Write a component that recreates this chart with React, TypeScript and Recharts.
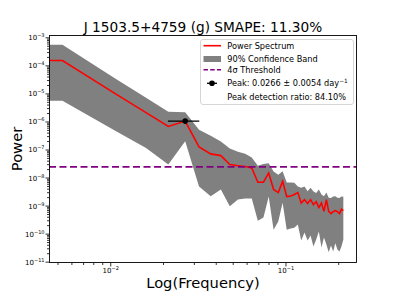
import React from 'react';
import { ComposedChart, Line, Area, Scatter, ErrorBar, XAxis, YAxis, ReferenceLine } from 'recharts';

// frequency grid (day^-1). first entry sits on the left edge, where the f=0 bin gets clipped on a log axis
const freqs = [
  0.00444, 0.0053, 0.0106, 0.0159, 0.0213, 0.0266, 0.0319, 0.0372, 0.0425, 0.0478, 0.0532,
  0.0585, 0.0638, 0.0691, 0.0744, 0.0797, 0.085, 0.0904, 0.0957, 0.101, 0.1063,
  0.1116, 0.1169, 0.1222, 0.1276, 0.1329, 0.1382, 0.1435, 0.1488, 0.1541, 0.1595,
  0.1648, 0.1701, 0.1754, 0.1807, 0.186, 0.1913, 0.1967, 0.202, 0.2073, 0.2126,
];

// log10 of power
const powerExp = [
  -3.81, -3.81, -4.99, -5.67, -6.16, -5.97, -6.89, -7.14, -7.2, -7.52, -7.56,
  -7.59, -7.64, -8.15, -8.15, -7.82, -8.41, -8.52, -8.12, -8.66, -8.64,
  -8.59, -8.52, -8.89, -8.77, -8.91, -8.77, -8.95, -8.84, -9.05, -8.89,
  -9.19, -8.77, -9.19, -9.27, -9.2, -9.16, -9.2, -9.27, -9.11, -9.16,
];

const bandHighExp = [
  -3.25, -3.25, -4.45, -5.14, -5.64, -5.65, -6.28, -6.49, -6.7, -6.95, -7.06,
  -7.13, -7.27, -7.56, -7.5, -7.47, -7.77, -7.88, -7.76, -8.16, -8.16,
  -8.17, -8.3, -8.35, -8.3, -8.47, -8.35, -8.48, -8.53, -8.41, -8.59,
  -8.65, -8.52, -8.7, -8.71, -8.66, -8.65, -8.7, -8.71, -8.66, -8.67,
];

const bandLowExp = [
  -5.245, -5.245, -6.31, -6.93, -7.52, -6.69, -8.3, -8.65, -8.41, -9.01, -8.77,
  -8.73, -8.73, -9.52, -9.41, -8.66, -9.84, -9.55, -8.88, -9.84, -9.8,
  -9.77, -9.66, -10.23, -9.94, -10.23, -10.05, -10.44, -10.19, -9.91, -10.48,
  -10.12, -10.37, -10.65, -10.41, -10.62, -10.33, -10.55, -10.62, -10.44, -10.19,
];

const peakFreq = 0.0266;
const peakErr = 0.0054;
const peakPowerExp = -5.97;
const threshold = 2.5e-8;

const xDomain = [0.004441, 0.2544];
const yDomain = [9.33e-12, 1.26e-3];

const xMajor = [0.01, 0.1];
const xMinor = [0.005, 0.006, 0.007, 0.008, 0.009, 0.02, 0.03, 0.04, 0.05, 0.06, 0.07, 0.08, 0.09, 0.2];
const yMajor = [1e-11, 1e-10, 1e-9, 1e-8, 1e-7, 1e-6, 1e-5, 1e-4, 1e-3];
const yMinor = [-11, -10, -9, -8, -7, -6, -5, -4].flatMap((d) =>
  [2, 3, 4, 5, 6, 7, 8, 9].map((m) => m * Math.pow(10, d))
);

const data = freqs.map((f, i) => ({
  f,
  p: Math.pow(10, powerExp[i]),
  band: [Math.pow(10, bandLowExp[i]), Math.pow(10, bandHighExp[i])],
}));

const peakData = [{ f: peakFreq, p: Math.pow(10, peakPowerExp), ferr: peakErr }];

const isMajor = (v: number) => Math.abs(Math.log10(v) - Math.round(Math.log10(v))) < 1e-6;
const MINUS = '\u2212';

const XTick = ({ x, y, payload }: any) => {
  const major = isMajor(payload.value);
  const e = Math.round(Math.log10(payload.value));
  return (
    <g>
      <line x1={x} y1={y} x2={x} y2={y + (major ? 3.5 : 2)} stroke="#000" strokeWidth={0.8} />
      {major && (
        <text x={x} y={y + 9.5} textAnchor="middle" fontSize={7} fill="#000">
          10<tspan dy={-3} fontSize={5}>{MINUS + Math.abs(e)}</tspan>
        </text>
      )}
    </g>
  );
};

const YTick = ({ x, y, payload }: any) => {
  const major = isMajor(payload.value);
  const e = Math.round(Math.log10(payload.value));
  return (
    <g>
      <line x1={x} y1={y} x2={x - (major ? 3.5 : 2)} y2={y} stroke="#000" strokeWidth={0.8} />
      {major && (
        <text x={x - 4.5} y={y + 2.5} textAnchor="end" fontSize={7} fill="#000">
          10<tspan dy={-3} fontSize={5}>{MINUS + Math.abs(e)}</tspan>
        </text>
      )}
    </g>
  );
};

const PeakDot = ({ cx, cy }: any) => <circle cx={cx} cy={cy} r={2.8} fill="#000" />;

const Overlay = () => (
  <svg width={397} height={297} style={{ position: 'absolute', left: 0, top: 0, pointerEvents: 'none' }}>
    {/* frame */}
    <rect x={49.5} y={35.5} width={307} height={227} fill="none" stroke="#000" strokeWidth={0.9} />
    {/* title + axis labels */}
    <text x={203} y={32} textAnchor="middle" fontSize={13.7} fill="#000">
      J 1503.5+4759 (g) SMAPE: 11.30%
    </text>
    <text x={203} y={287.5} textAnchor="middle" fontSize={14.7} fill="#000">
      Log(Frequency)
    </text>
    <text transform="translate(22,149) rotate(-90)" textAnchor="middle" fontSize={14.7} fill="#000">
      Power
    </text>
    {/* legend */}
    <rect x={200.5} y={39.5} width={153} height={65} rx={2.5} fill="#fff" fillOpacity={0.8} stroke="#cccccc" strokeWidth={0.8} />
    <line x1={203.5} y1={45.7} x2={221} y2={45.7} stroke="#ff0000" strokeWidth={1.6} />
    <rect x={203.5} y={56} width={17.5} height={6} fill="#808080" />
    <line x1={203.5} y1={69.8} x2={221} y2={69.8} stroke="#800080" strokeWidth={1.6} strokeDasharray="4.5 2.2" />
    <line x1={207} y1={83.3} x2={217} y2={83.3} stroke="#000" strokeWidth={1.3} />
    <circle cx={212} cy={83.3} r={2.8} fill="#000" />
    <g fontSize={8.2} fill="#000">
      <text x={227.3} y={48.6}>Power Spectrum</text>
      <text x={227.3} y={61.9}>90% Confidence Band</text>
      <text x={227.3} y={72.7}>4σ Threshold</text>
      <text x={227.3} y={86.2}>
        Peak: 0.0266 ± 0.0054 day<tspan dy={-3.2} fontSize={5.8}>{MINUS}1</tspan>
      </text>
      <text x={227.3} y={99.6}>Peak detection ratio: 84.10%</text>
    </g>
  </svg>
);

export default function App() {
  return (
    <div
      style={{
        position: 'absolute',
        left: 0,
        top: 0,
        width: 397,
        height: 297,
        background: '#fff',
        fontFamily: '"DejaVu Sans", sans-serif',
      }}
    >
      <ComposedChart width={397} height={297} data={data} margin={{ top: 35, right: 40, bottom: 0, left: 0 }}>
        <XAxis
          dataKey="f"
          type="number"
          scale="log"
          domain={xDomain}
          allowDataOverflow
          ticks={[...xMajor, ...xMinor]}
          interval={0}
          height={34}
          axisLine={false}
          tickLine={false}
          tickSize={0}
          tickMargin={0}
          tick={(p: any) => <XTick {...p} />}
        />
        <YAxis
          type="number"
          scale="log"
          domain={yDomain}
          allowDataOverflow
          ticks={[...yMajor, ...yMinor]}
          interval={0}
          width={49}
          axisLine={false}
          tickLine={false}
          tickSize={0}
          tickMargin={0}
          tick={(p: any) => <YTick {...p} />}
        />
        <Area
          dataKey="band"
          type="linear"
          stroke="none"
          fill="#808080"
          fillOpacity={1}
          isAnimationActive={false}
          activeDot={false}
        />
        <Line
          dataKey="p"
          type="linear"
          stroke="#ff0000"
          strokeWidth={1.6}
          dot={false}
          activeDot={false}
          isAnimationActive={false}
        />
        <ReferenceLine y={threshold} stroke="#800080" strokeWidth={1.6} strokeDasharray="7 3.5" />
        <Scatter data={peakData} dataKey="p" shape={(p: any) => <PeakDot {...p} />} isAnimationActive={false}>
          <ErrorBar dataKey="ferr" direction="x" width={0} stroke="#000" strokeWidth={1.3} />
        </Scatter>
      </ComposedChart>
      <Overlay />
    </div>
  );
}
